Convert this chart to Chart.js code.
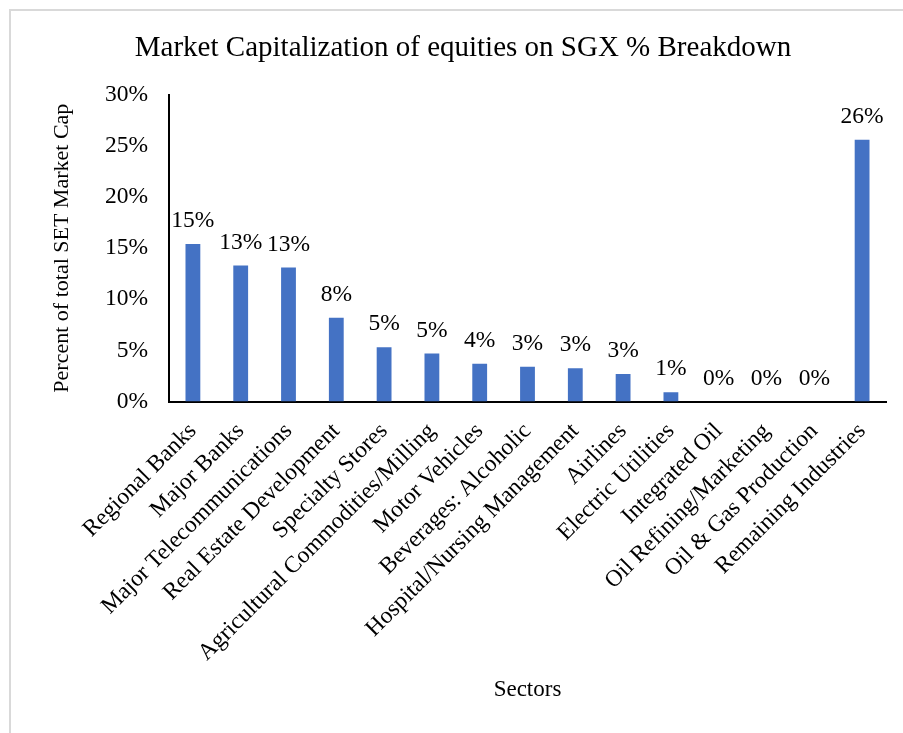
<!DOCTYPE html>
<html>
<head>
<meta charset="utf-8">
<script src="https://cdn.jsdelivr.net/npm/chart.js@4"></script>
<style>
  body { margin: 0; background: #fff; overflow: hidden; }
  #frame { position: absolute; left: 9px; top: 9px; width: 1000px; height: 1000px; border: 2px solid #d9d9d9; }
  #chart { position: absolute; left: 0; top: 0; }
</style>
</head>
<body>
<div id="frame"></div>
<canvas id="chart" width="903" height="733"></canvas>
<script>
// dados do grafico
const sectors = ['Regional Banks', 'Major Banks', 'Major Telecommunications', 'Real Estate Development',
  'Specialty Stores', 'Agricultural Commodities/Milling', 'Motor Vehicles', 'Beverages: Alcoholic',
  'Hospital/Nursing Management', 'Airlines', 'Electric Utilities', 'Integrated Oil',
  'Oil Refining/Marketing', 'Oil & Gas Production', 'Remaining Industries'];
const marketCapPct = [15.4, 13.3, 13.1, 8.2, 5.3, 4.7, 3.7, 3.4, 3.25, 2.7, 0.9, 0, 0, 0, 25.6];
const yTicks = [0, 5, 10, 15, 20, 25, 30];

const serif = 'Liberation Serif';

// rotulos em cima das barras
const barLabels = {
  id: 'barLabels',
  afterDatasetsDraw(chart) {
    const ctx = chart.ctx;
    ctx.save();
    ctx.font = '23.5px "' + serif + '"';
    ctx.fillStyle = '#000';
    ctx.textAlign = 'center';
    ctx.textBaseline = 'middle';
    chart.getDatasetMeta(0).data.forEach(function (bar, i) {
      ctx.fillText(Math.round(marketCapPct[i]) + '%', bar.x, bar.y - 23);
    });
    ctx.restore();
  }
};

new Chart(document.getElementById('chart'), {
  type: 'bar',
  data: {
    labels: sectors,
    datasets: [{
      data: marketCapPct,
      backgroundColor: '#4472C4',
      barPercentage: 0.31,
      categoryPercentage: 1
    }]
  },
  options: {
    responsive: false,
    animation: false,
    layout: { padding: { left: 40, right: 17, top: 0, bottom: 0 } },
    plugins: {
      legend: { display: false },
      tooltip: { enabled: false },
      title: {
        display: true,
        text: 'Market Capitalization of equities on SGX % Breakdown',
        color: '#000',
        font: { family: serif, size: 29, weight: 'normal' },
        padding: { top: 31, bottom: 29 }
      }
    },
    scales: {
      x: {
        grid: { display: false },
        border: { display: true, color: '#000', width: 2 },
        ticks: {
          color: '#000',
          autoSkip: false,
          maxRotation: 45,
          minRotation: 45,
          padding: 8,
          font: { family: serif, size: 23.5 }
        },
        title: {
          display: true,
          text: 'Sectors',
          color: '#000',
          font: { family: serif, size: 23 },
          padding: { top: 0, bottom: 29 }
        },
        afterFit: function (scale) { scale.height = 331.5; }
      },
      y: {
        min: 0,
        max: 30,
        grid: { display: false, drawTicks: false },
        border: { display: true, color: '#000', width: 2 },
        afterBuildTicks: function (scale) {
          scale.ticks = yTicks.map(function (v) { return { value: v }; });
        },
        ticks: {
          color: '#000',
          padding: 21,
          font: { family: serif, size: 23.5 },
          callback: function (v) { return v + '%'; }
        },
        title: {
          display: true,
          text: 'Percent of total SET Market Cap',
          color: '#000',
          font: { family: serif, size: 22 },
          padding: { top: 9, bottom: 0 }
        },
        afterFit: function (scale) { scale.width = 129; }
      }
    }
  },
  plugins: [barLabels]
});
</script>
</body>
</html>
